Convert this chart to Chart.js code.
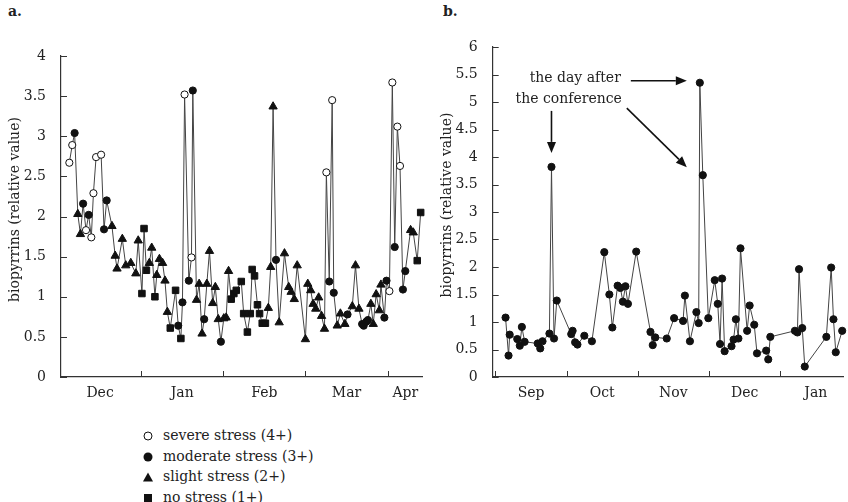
<!DOCTYPE html>
<html>
<head>
<meta charset="utf-8">
<script src="https://cdn.jsdelivr.net/npm/chart.js@4.4.1/dist/chart.umd.min.js"></script>
<style>
  html, body { margin: 0; padding: 0; background: #fff; }
  body { width: 848px; height: 502px; position: relative; overflow: hidden;
         font-family: "DejaVu Serif", "Liberation Serif", serif; color: #222; }
  canvas { position: absolute; top: 0; }
  #graficaA { left: 0; }
  #graficaB { left: 432px; }
  .letra { position: absolute; top: 3px; font-weight: bold; font-size: 14px; }
  #leyenda { position: absolute; left: 142px; top: 425px; font-size: 14px; line-height: 20.5px; }
  .fila { white-space: nowrap; }
  .sim { display: inline-block; width: 12px; margin-right: 9px; position: relative; height: 10px; vertical-align: -1px; }
  .sim::before { content: ''; position: absolute; left: 50%; top: 50%; transform: translate(-50%, -50%); box-sizing: border-box; }
  .abierto::before { width: 9px; height: 9px; border-radius: 50%; border: 1px solid #111; background: #fff; }
  .lleno::before { width: 9px; height: 9px; border-radius: 50%; background: #111; }
  .triangulo::before { width: 0; height: 0; border-left: 5px solid transparent; border-right: 5px solid transparent; border-bottom: 9px solid #111; }
  .cuadro::before { width: 8px; height: 8px; background: #111; }
</style>
</head>
<body>
<span class="letra" style="left:8px">a.</span>
<span class="letra" style="left:443px">b.</span>
<canvas id="graficaA" width="432" height="410"></canvas>
<canvas id="graficaB" width="416" height="410"></canvas>
<div id="leyenda">
  <div class="fila"><span class="sim abierto"></span>severe stress (4+)</div>
  <div class="fila"><span class="sim lleno"></span>moderate stress (3+)</div>
  <div class="fila"><span class="sim triangulo"></span>slight stress (2+)</div>
  <div class="fila"><span class="sim cuadro"></span>no stress (1+)</div>
</div>
<script>
// Panel a: día (meses de 31 unidades, 0 = 1 dic), valor y nivel de estrés
const diasA = [3.9, 5.0, 5.9, 7.1, 8.1, 9.1, 10.2, 11.2, 12.2, 13.0,
    14.0, 15.9, 17.0, 18.0, 20.0, 21.2, 21.9, 23.9, 25.2, 27.1,
    29.0, 29.9, 31.3, 32.1, 33.0, 34.1, 35.0, 36.2, 36.9, 37.9,
    39.1, 40.0, 40.9, 42.0, 44.0, 45.0, 46.0, 46.6, 47.4, 49.0,
    50.0, 50.5, 51.9, 52.9, 54.0, 54.8, 55.8, 56.8, 58.0, 59.0,
    60.1, 61.1, 62.2, 63.1, 64.0, 65.0, 66.0, 66.9, 68.8, 69.7,
    71.1, 72.2, 72.9, 73.8, 74.9, 75.7, 76.7, 77.9, 79.0, 79.9,
    80.8, 81.9, 83.1, 85.1, 86.7, 87.6, 88.8, 89.9, 93.0, 93.9,
    95.0, 95.9, 96.9, 98.0, 99.1, 100.2, 100.9, 102.0, 103.1, 103.7,
    105.0, 106.2, 107.9, 108.9, 110.7, 111.9, 113.2, 114.4, 115.0, 116.0,
    116.6, 117.7, 118.6, 119.7, 120.9, 121.5, 122.8, 123.6, 124.7, 125.8,
    126.7, 127.7, 128.7, 129.8, 130.7, 132.7, 133.7, 135.2, 136.5];
const valoresA = [2.67, 2.89, 3.04, 2.03, 1.78, 2.16, 1.83, 2.02, 1.74, 2.29,
    2.74, 2.77, 1.84, 2.20, 1.88, 1.51, 1.35, 1.72, 1.39, 1.42,
    1.29, 1.70, 1.04, 1.85, 1.33, 1.42, 1.61, 1.00, 1.27, 1.47,
    1.42, 1.20, 0.81, 0.61, 1.08, 0.64, 0.48, 0.93, 3.52, 1.20,
    1.49, 3.57, 0.96, 1.16, 0.54, 0.72, 1.16, 1.57, 0.92, 1.12,
    0.72, 0.44, 0.73, 0.74, 1.32, 0.97, 1.04, 1.08, 1.19, 0.79,
    0.56, 0.79, 1.34, 1.26, 0.90, 0.79, 0.67, 0.67, 0.86, 1.37,
    3.37, 1.46, 0.68, 1.54, 1.12, 1.06, 0.97, 1.39, 0.47, 1.16,
    1.08, 0.91, 0.85, 0.99, 0.76, 0.60, 2.55, 1.19, 3.45, 1.05,
    0.64, 0.79, 0.66, 0.78, 0.88, 1.39, 0.85, 0.66, 0.64, 0.69,
    0.71, 0.91, 0.66, 1.03, 0.83, 1.15, 0.74, 1.20, 1.07, 3.67,
    1.62, 3.12, 2.63, 1.09, 1.32, 1.83, 1.80, 1.45, 2.05];
// 4 = severe, 3 = moderate, 2 = slight, 1 = no stress
const estresA = [4, 4, 3, 2, 2, 3, 4, 3, 4, 4,
    4, 4, 3, 3, 2, 2, 2, 2, 2, 2,
    2, 2, 1, 1, 1, 2, 2, 1, 2, 2,
    2, 2, 2, 1, 1, 3, 1, 3, 4, 3,
    4, 3, 2, 2, 2, 3, 2, 2, 2, 2,
    2, 3, 2, 2, 2, 1, 1, 1, 1, 1,
    1, 1, 1, 1, 1, 1, 1, 1, 2, 2,
    2, 3, 2, 2, 2, 2, 2, 2, 2, 2,
    2, 2, 2, 2, 2, 2, 4, 3, 4, 3,
    2, 2, 2, 3, 2, 2, 2, 3, 3, 3,
    3, 2, 2, 2, 2, 2, 3, 3, 4, 4,
    3, 4, 4, 3, 3, 2, 2, 1, 1];
const mesesA = ['Dec', 'Jan', 'Feb', 'Mar', 'Apr'];
const posMesesA = [15.5, 46.5, 77.5, 108.5, 130.7];

// Panel b: día (0 = 1 sep), valor
const diasB = [4.4, 5.7, 6.2, 9.5, 10.6, 11.5, 12.7, 18.4, 19.5, 20.5,
    23.5, 24.4, 25.5, 26.7, 33.0, 33.6, 34.7, 35.7, 38.7, 42.0,
    47.4, 49.6, 50.9, 53.2, 54.4, 55.5, 56.6, 57.7, 61.3, 67.5,
    68.5, 69.6, 74.6, 77.8, 81.7, 82.5, 84.7, 87.5, 88.5, 89.0,
    90.3, 92.7, 95.5, 96.8, 97.8, 98.7, 99.8, 102.8, 103.7, 104.7,
    105.8, 106.7, 109.6, 110.7, 112.7, 113.9, 117.9, 118.8, 119.7, 130.4,
    131.5, 132.2, 133.6, 134.7, 144.1, 146.2, 147.2, 148.2, 151.0];
const valoresB = [1.08, 0.39, 0.77, 0.69, 0.57, 0.91, 0.64, 0.61, 0.52, 0.65,
    0.79, 3.82, 0.70, 1.39, 0.78, 0.84, 0.63, 0.59, 0.75, 0.65,
    2.27, 1.50, 0.90, 1.66, 1.62, 1.37, 1.65, 1.33, 2.28, 0.82,
    0.58, 0.72, 0.70, 1.07, 1.02, 1.48, 0.65, 1.18, 0.98, 5.35,
    3.67, 1.07, 1.76, 1.33, 0.60, 1.79, 0.47, 0.56, 0.68, 1.05,
    0.70, 2.34, 0.84, 1.30, 0.95, 0.43, 0.48, 0.32, 0.73, 0.84,
    0.81, 1.96, 0.89, 0.19, 0.73, 1.99, 1.05, 0.45, 0.84];
const mesesB = ['Sep', 'Oct', 'Nov', 'Dec', 'Jan'];
const posMesesB = [15.5, 46.5, 77.5, 108.5, 139.5];
// índices de los puntos señalados con flechas
const picosB = [11, 39, 40];

// límites de mes (marcas del eje x)
const limitesMes = [0, 31, 62, 93, 124];

const fuente = '"DejaVu Serif", "Liberation Serif", serif';
Chart.defaults.font.family = fuente;
Chart.defaults.font.size = 14;
Chart.defaults.color = '#222';
Chart.defaults.animation = false;

// Marcas cortas hacia dentro en ambos ejes
const marcasInternas = {
    id: 'marcasInternas',
    afterDraw(chart, args, opts) {
        const { ctx, chartArea, scales } = chart;
        ctx.save();
        ctx.strokeStyle = '#333';
        ctx.lineWidth = 1;
        ctx.beginPath();
        scales.y.ticks.forEach(t => {
            const py = Math.round(scales.y.getPixelForValue(t.value)) + 0.5;
            ctx.moveTo(chartArea.left, py);
            ctx.lineTo(chartArea.left + 6, py);
        });
        (opts.limites || []).forEach(v => {
            if (v <= scales.x.min || v >= scales.x.max) return;
            const px = Math.round(scales.x.getPixelForValue(v)) + 0.5;
            ctx.moveTo(px, chartArea.bottom);
            ctx.lineTo(px, chartArea.bottom - 6);
        });
        ctx.stroke();
        ctx.restore();
    }
};

function flecha(ctx, x1, y1, x2, y2) {
    const ang = Math.atan2(y2 - y1, x2 - x1);
    const largo = 11, ancho = 4.5;
    const bx = x2 - largo * Math.cos(ang), by = y2 - largo * Math.sin(ang);
    ctx.beginPath();
    ctx.moveTo(x1, y1);
    ctx.lineTo(bx, by);
    ctx.stroke();
    ctx.beginPath();
    ctx.moveTo(x2, y2);
    ctx.lineTo(bx + ancho * Math.sin(ang), by - ancho * Math.cos(ang));
    ctx.lineTo(bx - ancho * Math.sin(ang), by + ancho * Math.cos(ang));
    ctx.closePath();
    ctx.fill();
}

// Texto y flechas de "the day after the conference"
const anotacion = {
    id: 'anotacion',
    afterDraw(chart) {
        const { ctx, scales } = chart;
        const p = picosB.map(i => ({
            x: scales.x.getPixelForValue(diasB[i]),
            y: scales.y.getPixelForValue(valoresB[i])
        }));
        ctx.save();
        ctx.strokeStyle = '#111';
        ctx.fillStyle = '#111';
        ctx.lineWidth = 1.6;
        flecha(ctx, p[0].x, p[0].y - 56, p[0].x, p[0].y - 14);
        flecha(ctx, p[1].x - 69, p[1].y - 2, p[1].x - 13, p[1].y - 2);
        flecha(ctx, p[2].x - 76, p[2].y - 67, p[2].x - 16, p[2].y - 8);
        ctx.fillStyle = '#222';
        ctx.font = '14px ' + fuente;
        ctx.textAlign = 'right';
        ctx.textBaseline = 'middle';
        ctx.fillText('the day after', p[1].x - 79, p[1].y - 4);
        ctx.fillText('the conference', p[1].x - 78, p[1].y + 17);
        ctx.restore();
    }
};

function opcionesEjes(cfg) {
    return {
        x: {
            type: 'linear',
            min: cfg.xmin,
            max: cfg.xmax,
            afterBuildTicks(s) { s.ticks = cfg.posMeses.map(v => ({ value: v })); },
            ticks: { callback: (v, i) => cfg.meses[i], padding: 0, autoSkip: false, maxRotation: 0 },
            grid: { display: false },
            border: { color: '#333', width: 1.2 },
            afterFit(s) { s.height = 33; }
        },
        y: {
            min: 0,
            max: cfg.ymax,
            ticks: { stepSize: 0.5, padding: 7, callback: v => String(v) },
            grid: { display: false },
            border: { color: '#333', width: 1.2 },
            // espacios al inicio para subir el título unos píxeles
            title: { display: true, text: '\u2002\u2002biopyrrins (relative value)', padding: { top: 7, bottom: 0 } },
            afterFit(s) { s.width = cfg.anchoY; }
        }
    };
}

window.addEventListener('DOMContentLoaded', function() {
    // Panel a
    new Chart(document.getElementById('graficaA'), {
        type: 'line',
        data: {
            datasets: [{
                data: diasA.map((d, i) => ({ x: d, y: valoresA[i] })),
                borderColor: '#444',
                borderWidth: 1,
                pointStyle: c => estresA[c.dataIndex] === 2 ? 'triangle' : (estresA[c.dataIndex] === 1 ? 'rect' : 'circle'),
                pointRadius: c => ({ 4: 3.6, 3: 3.6, 2: 4.8, 1: 4.6 })[estresA[c.dataIndex]],
                pointBackgroundColor: c => estresA[c.dataIndex] === 4 ? '#fff' : '#111',
                pointBorderColor: '#111',
                pointBorderWidth: 1,
                clip: false
            }]
        },
        options: {
            responsive: false,
            layout: { padding: { top: 56, left: 0, right: 10, bottom: 0 } },
            scales: opcionesEjes({ xmin: 0.76, xmax: 137, meses: mesesA, posMeses: posMesesA, ymax: 4, anchoY: 61 }),
            plugins: {
                legend: { display: false },
                tooltip: { enabled: false },
                marcasInternas: { limites: limitesMes }
            }
        },
        plugins: [marcasInternas]
    });

    // Panel b
    new Chart(document.getElementById('graficaB'), {
        type: 'line',
        data: {
            datasets: [{
                data: diasB.map((d, i) => ({ x: d, y: valoresB[i] })),
                borderColor: '#444',
                borderWidth: 1,
                pointRadius: 3.6,
                pointBackgroundColor: '#111',
                pointBorderColor: '#111',
                pointBorderWidth: 1,
                clip: false
            }]
        },
        options: {
            responsive: false,
            layout: { padding: { top: 47, left: 0, right: 0, bottom: 0 } },
            scales: opcionesEjes({ xmin: -1.2, xmax: 151.35, meses: mesesB, posMeses: posMesesB, ymax: 6, anchoY: 60.7 }),
            plugins: {
                legend: { display: false },
                tooltip: { enabled: false },
                marcasInternas: { limites: limitesMes }
            }
        },
        plugins: [marcasInternas, anotacion]
    });
});
</script>
</body>
</html>
